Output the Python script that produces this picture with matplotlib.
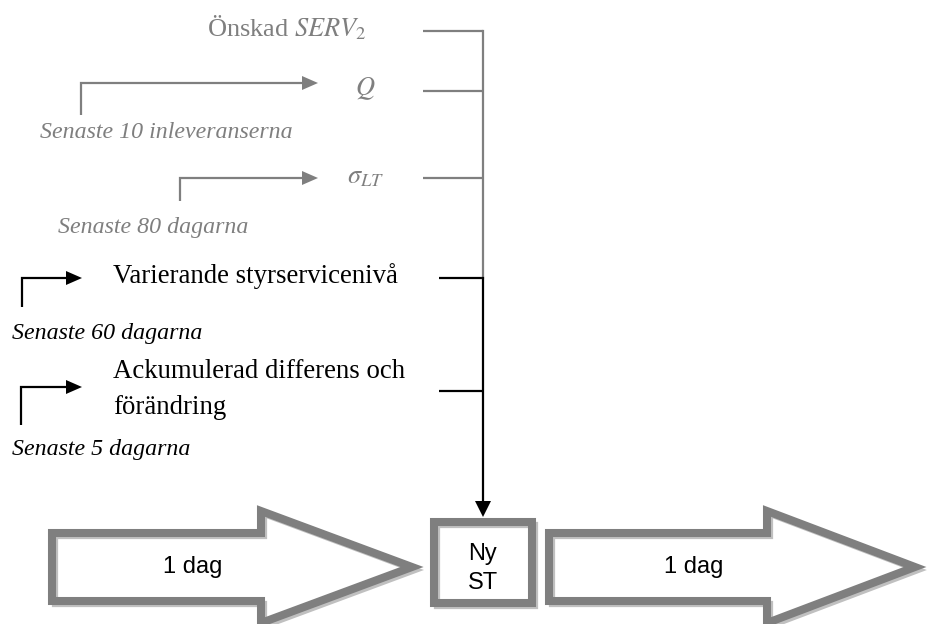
import matplotlib.pyplot as plt
from matplotlib.patches import Polygon

plt.rcParams['font.family'] = ['Liberation Serif', 'DejaVu Serif']
plt.rcParams['mathtext.fontset'] = 'stix'

GRAY = '#7f7f7f'
LIGHT = '#c0c0c0'

# inputs that feed the trunk line: label, y of connector, colour
input_labels = ['Önskad $SERV_2$', '$Q$', r'$\sigma_{LT}$',
                'Varierande styrservicenivå', 'Ackumulerad differens och']
input_y = [31, 91, 178, 278, 391]
input_colors = [GRAY, GRAY, GRAY, 'black', 'black']
connector_x0 = [423, 423, 423, 439, 439]

# time windows with the bent arrows pointing at the inputs
source_labels = ['Senaste 10 inleveranserna', 'Senaste 80 dagarna',
                 'Senaste 60 dagarna', 'Senaste 5 dagarna']
source_pos = [(40, 133), (58, 228), (12, 333), (12, 450)]
source_colors = [GRAY, GRAY, 'black', 'black']
bend_x = [81, 180, 22, 21]
bend_bottom = [115, 201, 307, 425]
bend_top = [83, 178, 278, 387]
bend_tip = [318, 318, 82, 82]

trunk_x = 483
trunk_tip = 517

# block arrows along the time line
day_labels = ['1 dag', '1 dag']
block_x = [(52, 261, 412), (549, 767, 915)]
block_label_x = [193, 694]
block_y = 567

fig = plt.figure(figsize=(9.27, 6.24), dpi=100)
ax = fig.add_axes([0, 0, 1, 1])
ax.set_xlim(0, 927)
ax.set_ylim(624, 0)
ax.axis('off')


def arrowhead(ax, x, y, direction, color, length=16, half=7):
    if direction == 'right':
        pts = [(x, y), (x - length, y - half), (x - length, y + half)]
    else:  # down
        pts = [(x, y), (x - half, y - length), (x + half, y - length)]
    ax.add_patch(Polygon(pts, closed=True, color=color, lw=0, zorder=4))


# connectors into trunk
for y, c, x0 in zip(input_y, input_colors, connector_x0):
    ax.plot([x0, trunk_x], [y, y], color=c, lw=1.6, solid_capstyle='butt')
ax.plot([trunk_x, trunk_x], [input_y[0], input_y[3]], color=GRAY, lw=1.6)
ax.plot([trunk_x, trunk_x], [input_y[3], trunk_tip - 14], color='black', lw=1.6)
arrowhead(ax, trunk_x, trunk_tip, 'down', 'black', length=16, half=8)

# input labels
ax.text(367, 28, input_labels[0], color=GRAY, fontsize=19, ha='right', va='center')
ax.text(365, 89, input_labels[1], color=GRAY, fontsize=19, ha='center', va='center')
ax.text(366, 178, input_labels[2], color=GRAY, fontsize=19, ha='center', va='center')
ax.text(113, 276, input_labels[3], color='black', fontsize=19.3, ha='left', va='center')
ax.text(113, 372, input_labels[4], color='black', fontsize=19.3, ha='left', va='center')
ax.text(113, 407, 'förändring', color='black', fontsize=19.3, ha='left', va='center')

# bent source arrows and their labels
for lab, (tx, ty), c, bx, yb, yt, tip in zip(source_labels, source_pos, source_colors,
                                              bend_x, bend_bottom, bend_top, bend_tip):
    ax.plot([bx, bx, tip - 14], [yb, yt, yt], color=c, lw=1.6,
            solid_joinstyle='miter', solid_capstyle='butt')
    arrowhead(ax, tip, yt, 'right', c)
    ax.text(tx, ty, lab, color=c, fontsize=17.2, style='italic', ha='left', va='center')


def outline(ax, pts, offset=3):
    ax.add_patch(Polygon(pts, closed=True, facecolor='white', edgecolor='none', zorder=1))
    shadow = [(x + offset, y + offset) for x, y in pts]
    ax.add_patch(Polygon(shadow, closed=True, fill=False, edgecolor=LIGHT,
                         lw=4.5, joinstyle='miter', zorder=2))
    ax.add_patch(Polygon(pts, closed=True, fill=False, edgecolor=GRAY,
                         lw=5.8, joinstyle='miter', zorder=3))


for (x0, xb, xt), lab, lx in zip(block_x, day_labels, block_label_x):
    hb, hh = 34, 56
    pts = [(x0, block_y - hb), (xb, block_y - hb), (xb, block_y - hh), (xt, block_y),
           (xb, block_y + hh), (xb, block_y + hb), (x0, block_y + hb)]
    outline(ax, pts)
    ax.text(lx, block_y, lab, family='Liberation Sans', fontsize=17,
            ha='center', va='center', zorder=5)

# new control level box
box = [(434, 522), (532, 522), (532, 603), (434, 603)]
outline(ax, box)
ax.text(trunk_x, 554, 'Ny', family='Liberation Sans', fontsize=17,
        ha='center', va='center', zorder=5)
ax.text(trunk_x, 583, 'ST', family='Liberation Sans', fontsize=17,
        ha='center', va='center', zorder=5)

fig.savefig('out.png', dpi=100)
